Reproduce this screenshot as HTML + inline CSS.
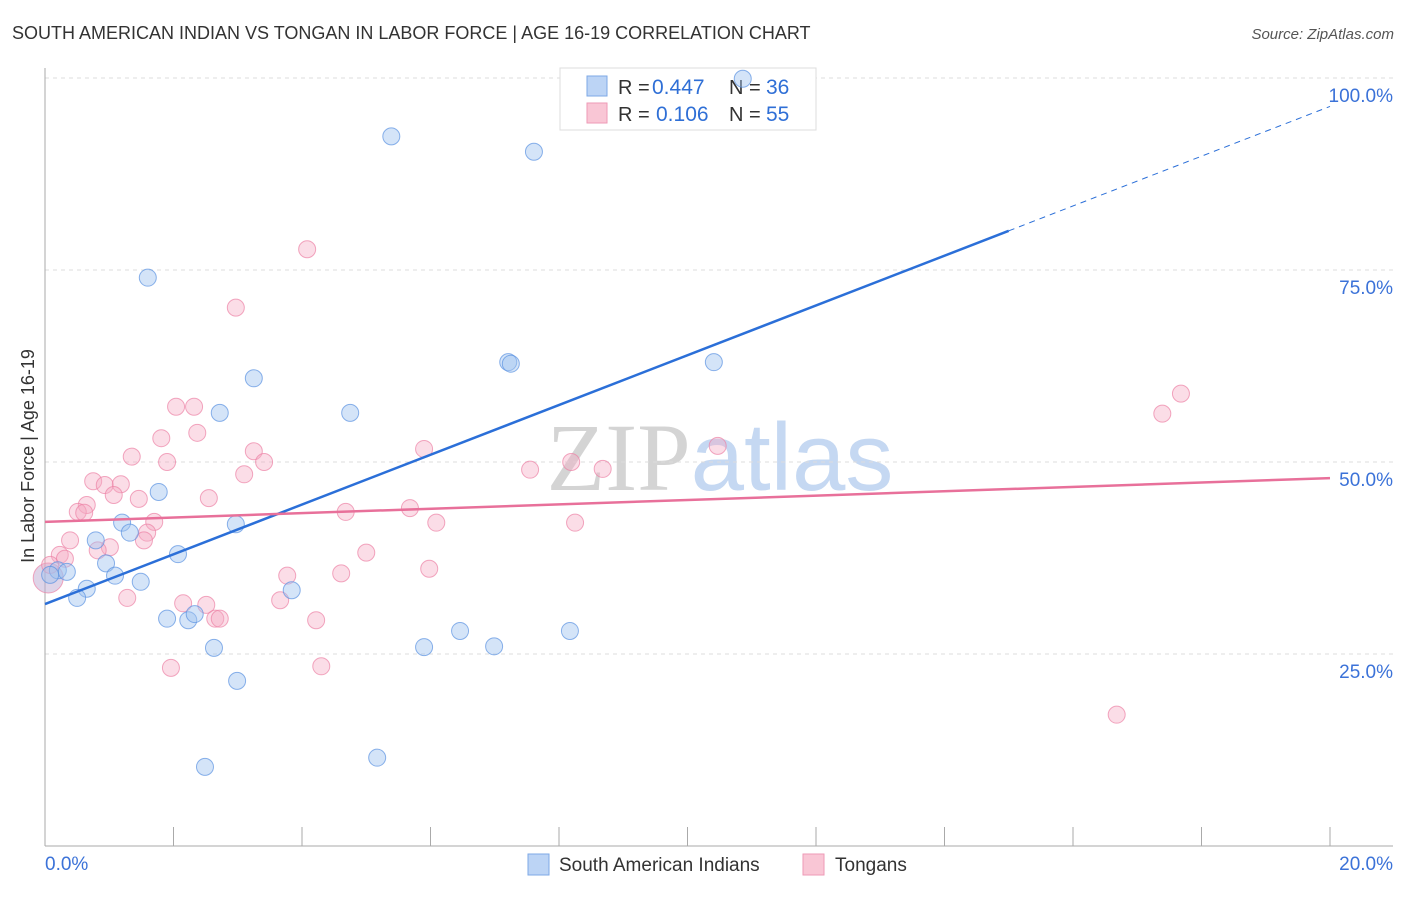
<!DOCTYPE html>
<html><head><meta charset="utf-8"><style>
body{margin:0;background:#fff;font-family:"Liberation Sans",sans-serif;}
svg text{font-family:"Liberation Sans",sans-serif;}
</style></head><body>
<svg id="chart" width="1406" height="892" xmlns="http://www.w3.org/2000/svg">
<text x="12" y="39" font-size="18" fill="#333">SOUTH AMERICAN INDIAN VS TONGAN IN LABOR FORCE | AGE 16-19 CORRELATION CHART</text>
<text x="1394" y="39" font-size="15" fill="#555" text-anchor="end" font-style="italic">Source: ZipAtlas.com</text>
<text x="720" y="490" font-size="96" text-anchor="middle"><tspan fill="#d4d4d4" font-family="Liberation Serif">ZIP</tspan><tspan fill="#c5d8f2">atlas</tspan></text>
<g id="grid"></g>
<g id="axes"></g>
<g>
<rect x="560" y="68" width="256" height="62" fill="#fff" stroke="#ddd"/>
<rect x="587" y="76" width="20" height="20" fill="#bcd4f5" stroke="#7ea8e6"/>
<rect x="587" y="103" width="20" height="20" fill="#f9c6d5" stroke="#ee9ab6"/>
<text x="618" y="94" font-size="20" fill="#333">R = <tspan x="652" fill="#2f6fd6" font-size="21">0.447</tspan></text>
<text x="729" y="94" font-size="20" fill="#333">N = <tspan x="766" fill="#2f6fd6" font-size="21">36</tspan></text>
<text x="618" y="121" font-size="20" fill="#333">R = <tspan x="656" fill="#2f6fd6" font-size="21">0.106</tspan></text>
<text x="729" y="121" font-size="20" fill="#333">N = <tspan x="766" fill="#2f6fd6" font-size="21">55</tspan></text>
</g>
<g id="pts"></g>
<g id="lines"></g>
<text transform="translate(34,456) rotate(-90)" font-size="18" fill="#333" text-anchor="middle">In Labor Force | Age 16-19</text>
<g>
<rect x="528" y="854" width="21" height="21" fill="#bcd4f5" stroke="#7ea8e6"/>
<text x="559" y="871" font-size="19" fill="#333">South American Indians</text>
<rect x="803" y="854" width="21" height="21" fill="#f9c6d5" stroke="#ee9ab6"/>
<text x="835" y="871" font-size="19" fill="#333">Tongans</text>
</g>
</svg>
<script>
const blueX=[10.86,5.39,7.61,1.60,3.25,7.21,7.25,10.41,2.72,4.75,1.77,1.20,2.97,0.79,1.32,2.07,0.95,0.20,0.34,1.09,1.49,0.65,0.50,3.84,1.90,2.23,2.33,2.63,5.90,6.46,6.99,8.17,2.99,2.49,5.17,0.08];
const blueY=[99.9,92.4,90.4,74.0,60.9,63.0,62.8,63.0,56.4,56.4,46.1,42.1,41.9,39.8,40.8,38.0,36.8,35.9,35.7,35.2,34.4,33.5,32.3,33.3,29.6,29.4,30.2,25.8,25.9,28.0,26.0,28.0,21.5,10.3,11.5,35.3];
const pinkX=[4.08,2.97,17.68,17.39,2.04,2.32,1.81,2.37,1.35,1.90,3.25,3.41,3.10,5.90,10.47,7.55,8.19,8.68,0.75,0.93,1.18,1.07,1.46,0.65,0.51,0.61,2.55,1.70,1.59,1.54,1.01,0.39,0.82,0.23,0.31,5.68,4.68,6.09,8.25,5.00,4.61,5.98,3.77,3.66,1.28,2.15,2.51,2.65,2.72,4.22,1.96,4.30,16.68,0.05,0.08];
const pinkY=[77.7,70.1,58.9,56.3,57.2,57.2,53.1,53.8,50.7,50.0,51.4,50.0,48.4,51.7,52.1,49.0,50.0,49.1,47.5,47.0,47.1,45.7,45.2,44.4,43.5,43.4,45.3,42.2,40.8,39.8,38.9,39.8,38.5,37.9,37.4,44.0,43.5,42.1,42.1,38.2,35.5,36.1,35.2,32.0,32.3,31.6,31.4,29.6,29.6,29.4,23.2,23.4,17.1,34.9,36.6];
const yTicks=[25,50,75,100];
const yTickLabels=["25.0%","50.0%","75.0%","100.0%"];
const xTickLabels=["0.0%","20.0%"];
const blueTrend=[31.5,96.3];
const pinkTrend=[42.2,47.9];
const sx=v=>45+v*64.25, sy=v=>846-v*7.68;
const NS="http://www.w3.org/2000/svg";
function mk(parent,tag,attrs){const e=document.createElementNS(NS,tag);for(const k in attrs)e.setAttribute(k,attrs[k]);parent.appendChild(e);return e;}
const grid=document.getElementById('grid'),axes=document.getElementById('axes'),pts=document.getElementById('pts'),lines=document.getElementById('lines');
yTicks.forEach((t,i)=>{
 const l=mk(grid,'line',{x1:45,x2:1393,y1:sy(t),y2:sy(t),stroke:'#ddd','stroke-dasharray':'4,4'});
 
 
 const tx=mk(axes,'text',{x:1393,y:sy(t)+24,'font-size':19,fill:'#3b72d8','text-anchor':'end'});
 tx.textContent=yTickLabels[i];
 
 
});
mk(axes,'line',{x1:45,x2:45,y1:68,y2:846,stroke:'#aaa'});
mk(axes,'line',{x1:45,x2:1393,y1:846,y2:846,stroke:'#aaa'});
for(let i=0;i<=10;i++){const t=mk(axes,'line',{x1:sx(i*2),x2:sx(i*2),y1:827,y2:846,stroke:'#aaa'});
 
 }
const xl0=mk(axes,'text',{x:45,y:870,'font-size':19,fill:'#3b72d8'});xl0.textContent=xTickLabels[0];


const xl1=mk(axes,'text',{x:1393,y:870,'font-size':19,fill:'#3b72d8','text-anchor':'end'});xl1.textContent=xTickLabels[1];


pinkX.forEach((x,i)=>{const big=(i===53);
 const c=mk(pts,'circle',{cx:sx(x),cy:sy(pinkY[i]),r:big?15:8.5,fill:big?'rgba(190,170,210,0.5)':'rgba(246,170,195,0.4)',stroke:'rgba(236,130,165,0.7)','stroke-width':1});
 
 });
blueX.forEach((x,i)=>{
 const c=mk(pts,'circle',{cx:sx(x),cy:sy(blueY[i]),r:8.5,fill:'rgba(160,195,240,0.45)',stroke:'rgba(90,145,225,0.7)','stroke-width':1});
 
 });
const bx=15;
const bMid=blueTrend[0]+(blueTrend[1]-blueTrend[0])*bx/20;
const b1=mk(lines,'line',{x1:sx(0),y1:sy(blueTrend[0]),x2:sx(bx),y2:sy(bMid),stroke:'#2b6fd8','stroke-width':2.5});


const b2=mk(lines,'line',{x1:sx(bx),y1:sy(bMid),x2:sx(20),y2:sy(blueTrend[1]),stroke:'#2b6fd8','stroke-width':1,'stroke-dasharray':'6,5'});


const p1=mk(lines,'line',{x1:sx(0),y1:sy(pinkTrend[0]),x2:sx(20),y2:sy(pinkTrend[1]),stroke:'#e8709a','stroke-width':2.5});


</script>
</body></html>
